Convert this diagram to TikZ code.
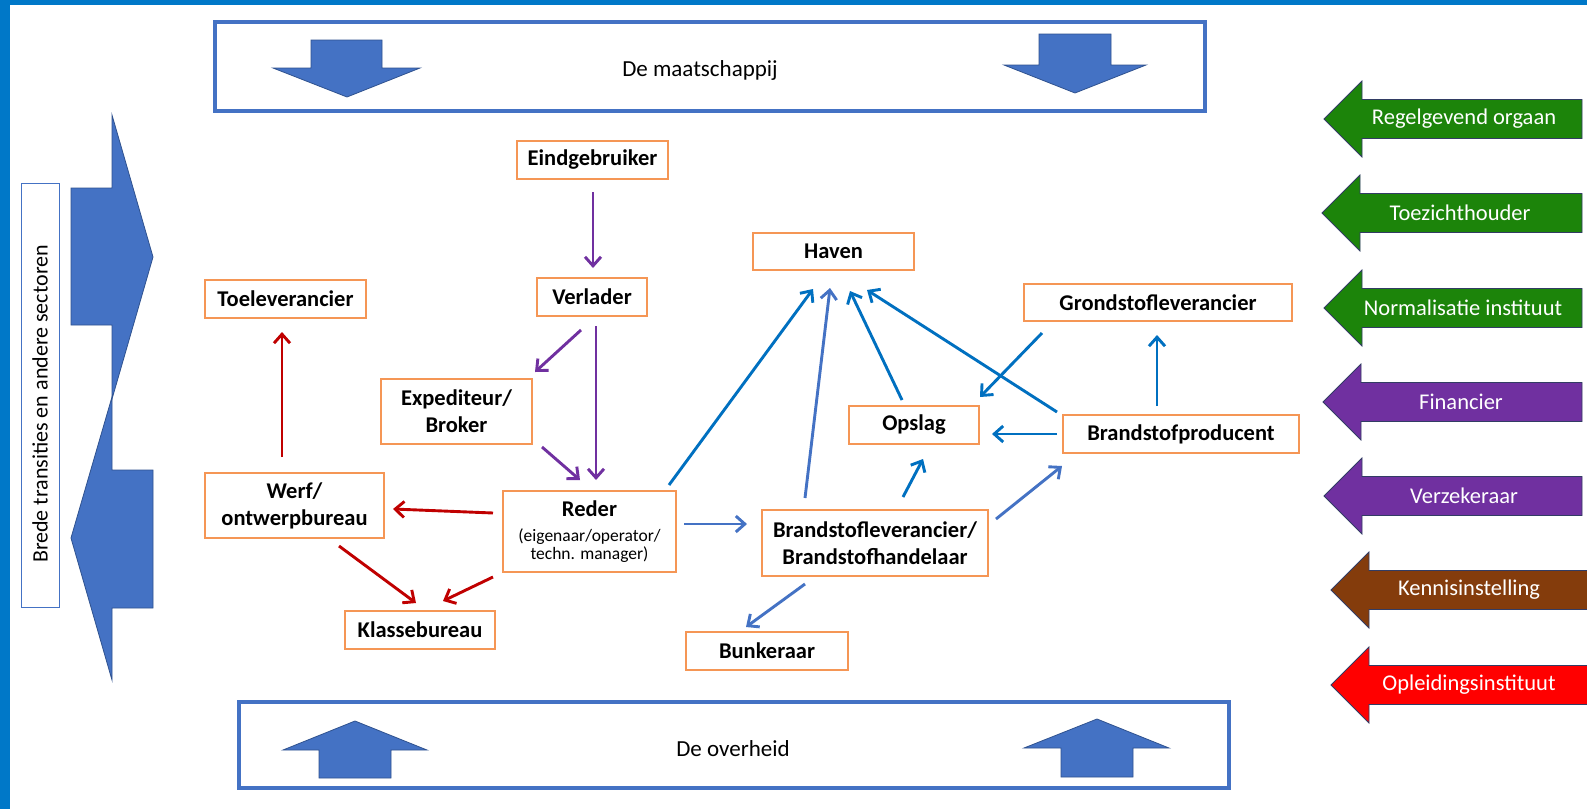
\documentclass[tikz,border=0pt]{standalone}
\usepackage{fontspec}
\setmainfont{Carlito}
\usetikzlibrary{arrows.meta,calc}
\definecolor{frameblue}{RGB}{0,120,200}
\definecolor{boxblue}{RGB}{68,114,196}
\definecolor{arrowline}{RGB}{47,82,143}
\definecolor{nodeorange}{RGB}{245,150,85}
\definecolor{cpurple}{RGB}{112,48,160}
\definecolor{cred}{RGB}{192,0,0}
\definecolor{cblue}{RGB}{0,112,192}
\definecolor{clblue}{RGB}{68,114,196}
\definecolor{sgreen}{RGB}{28,132,10}
\definecolor{spurple}{RGB}{112,48,160}
\definecolor{sbrown}{RGB}{132,60,12}
\definecolor{sred}{RGB}{255,0,0}
\definecolor{soutline}{RGB}{50,60,100}
\tikzset{
  actor/.style={draw=nodeorange, line width=1.6pt, fill=white, inner sep=0pt, align=center,
    font=\bfseries\fontsize{22.5}{27}\selectfont, text=black},
  conn/.style={line width=2.9pt, -{Straight Barb[length=9pt,width=16pt]}},
  bigarrow/.style={fill=boxblue, draw=arrowline, line width=0.8pt},
  plaintext/.style={inner sep=0pt, font=\fontsize{23}{27}\selectfont, text=black},
  sidetext/.style={inner sep=0pt, font=\fontsize{22.5}{27}\selectfont, text=white},
  sidearrowshape/.style={draw=soutline, line width=0.8pt}
}
\newcommand\sidearr[7]{% name, tip x, centre y, right x, colour, text, text x
  \filldraw[sidearrowshape, fill=#5] (#2,#3) -- ({#2+38},{#3-38}) -- ({#2+38},{#3-19.5})
    -- (#4,{#3-19.5}) -- (#4,{#3+19.5}) -- ({#2+38},{#3+19.5}) -- ({#2+38},{#3+38}) -- cycle;
  \node[sidetext] (#1) at (#7,#3) {#6};
}
\begin{document}
\begin{tikzpicture}[x=1pt,y=-1pt]
\useasboundingbox (0,0) rectangle (1587,809);
\fill[white] (0,0) rectangle (1587,809);
% frame
\fill[frameblue] (0,0) rectangle (1587,5);
\fill[frameblue] (0,0) rectangle (10,809);

% left side
\filldraw[bigarrow] (71,188) -- (112,188) -- (112,115) -- (153,257) -- (112,399) -- (112,325) -- (71,325) -- cycle;
\filldraw[bigarrow] (153,470) -- (112,470) -- (112,397) -- (71,538) -- (112,680) -- (112,608) -- (153,608) -- cycle;
\node[draw=boxblue, line width=1pt, fill=white, minimum width=424pt, minimum height=38pt,
  rotate=90, inner sep=0pt, font=\fontsize{22}{27}\selectfont] (brede) at (40,395)
  {Brede transities en andere sectoren\hspace*{18pt}};

% top box
\draw[boxblue, line width=4pt] (215,22) rectangle (1205,111);
\filldraw[bigarrow] (311,40) -- (382,40) -- (382,68) -- (420,68) -- (347,97) -- (273,68) -- (311,68) -- cycle;
\filldraw[bigarrow] (1039,34) -- (1111,34) -- (1111,65) -- (1146,65) -- (1075,93) -- (1004,65) -- (1039,65) -- cycle;
\node[plaintext] (maats) at (700,70) {De maatschappij};

% bottom box
\draw[boxblue, line width=4pt] (239,702) rectangle (1229,788);
\filldraw[bigarrow] (355,721) -- (427,750) -- (391,750) -- (391,778) -- (319,778) -- (319,750) -- (283,750) -- cycle;
\filldraw[bigarrow] (1097,719) -- (1169,748) -- (1133,748) -- (1133,777) -- (1061,777) -- (1061,748) -- (1024,748) -- cycle;
\node[plaintext] (overh) at (733,749) {De overheid};

% right side arrows
\sidearr{regel}{1324}{119}{1582}{sgreen}{Regelgevend orgaan}{1464}
\sidearr{toez}{1322}{213}{1582}{sgreen}{Toezichthouder}{1460}
\sidearr{norm}{1324}{308}{1582}{sgreen}{Normalisatie instituut}{1463}
\sidearr{fin}{1323}{402}{1582}{spurple}{Financier}{1461}
\sidearr{verz}{1324}{496}{1582}{spurple}{Verzekeraar}{1464}
\sidearr{kenn}{1331}{590}{1600}{sbrown}{Kennisinstelling}{1469}
\sidearr{oplei}{1331}{685}{1600}{sred}{Opleidingsinstituut}{1469}

% actor nodes
\node[actor, minimum width=151pt, minimum height=38pt] (eind) at (592.5,160) {Eindgebruiker};
\node[actor, minimum width=110pt, minimum height=38pt] (verl) at (592,297) {Verlader};
\node[actor, minimum width=161pt, minimum height=38pt] (toel) at (285.5,299) {Toeleverancier};
\node[actor, minimum width=151pt, minimum height=65pt] (exped) at (456.5,411.5) {Expediteur/\\Broker};
\node[actor, minimum width=179pt, minimum height=65pt] (werf) at (294.5,505.5) {Werf/\\ontwerpbureau};
\node[actor, minimum width=150pt, minimum height=38pt] (klas) at (420,630) {Klassebureau};
\node[actor, minimum width=173pt, minimum height=81pt, font=\fontsize{17.5}{18}\selectfont] (reder) at (589.5,531.5)
  {{\bfseries\fontsize{22.5}{25}\selectfont Reder}\\[7pt](eigenaar/operator/\\techn. manager)};
\node[actor, minimum width=226pt, minimum height=66pt] (brand) at (875,543) {Brandstofleverancier/\\Brandstofhandelaar};
\node[actor, minimum width=162pt, minimum height=38pt] (bunk) at (767,651) {Bunkeraar};
\node[actor, minimum width=130pt, minimum height=38pt] (opslag) at (914,425) {Opslag};
\node[actor, minimum width=161pt, minimum height=37pt] (haven) at (833.5,251.5) {Haven};
\node[actor, minimum width=268pt, minimum height=37pt] (grond) at (1158,302.5) {Grondstofleverancier};
\node[actor, minimum width=236pt, minimum height=38pt] (prod) at (1181,434) {Brandstofproducent};

% purple connectors
\draw[conn, cpurple] ($(eind)+(0.5,32)$) -- ($(verl)+(1,-29)$);
\draw[conn, cpurple] ($(verl)+(4,29)$) -- ($(reder)+(6.5,-51.5)$);
\draw[conn, cpurple] ($(verl)+(-11,33)$) -- ($(exped)+(78.5,-39.5)$);
\draw[conn, cpurple] ($(exped)+(85.5,35.5)$) -- ($(reder)+(-9.5,-51.5)$);
% red connectors
\draw[conn, cred] ($(werf)+(-12.5,-48.5)$) -- ($(toel)+(-3.5,33)$);
\draw[conn, cred] ($(reder)+(-96.5,-18.5)$) -- ($(werf)+(98.5,3.5)$);
\draw[conn, cred] ($(werf)+(44.5,40.5)$) -- ($(klas)+(-4,-27)$);
\draw[conn, cred] ($(reder)+(-96.5,45.5)$) -- ($(klas)+(23,-29)$);
% blue connectors
\draw[conn, cblue] ($(reder)+(79.5,-46.5)$) -- ($(haven)+(-20.5,37.5)$);
\draw[conn, cblue] ($(opslag)+(-12,-25)$) -- ($(haven)+(16.5,39.5)$);
\draw[conn, cblue] ($(prod)+(-124,-22)$) -- ($(haven)+(33.5,38.5)$);
\draw[conn, cblue] ($(grond)+(-116,30.5)$) -- ($(opslag)+(66,-28)$);
\draw[conn, cblue] ($(prod)+(-24,-28)$) -- ($(grond)+(-1,32.5)$);
\draw[conn, cblue] ($(prod)+(-124,0)$) -- ($(opslag)+(78,9)$);
\draw[conn, cblue] ($(brand)+(28,-46)$) -- ($(opslag)+(9,34)$);
% light blue connectors
\draw[conn, clblue] ($(brand)+(-70,-45)$) -- ($(haven)+(-3.5,36.5)$);
\draw[conn, clblue] ($(reder)+(94.5,-7.5)$) -- ($(brand)+(-128,-19)$);
\draw[conn, clblue] ($(brand)+(-70,41)$) -- ($(bunk)+(-21,-24)$);
\draw[conn, clblue] ($(brand)+(121,-24)$) -- ($(prod)+(-119,32)$);
\end{tikzpicture}
\end{document}
